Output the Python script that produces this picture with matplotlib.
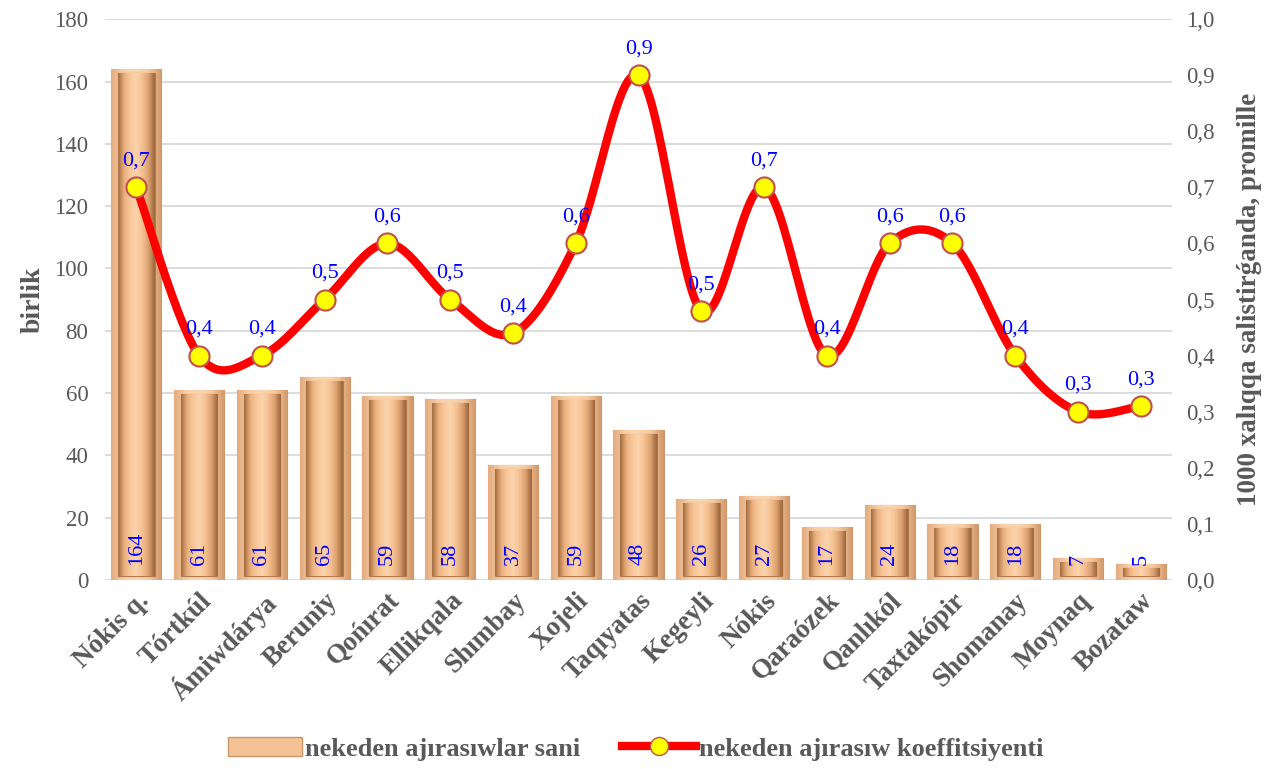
import numpy as np
import matplotlib
matplotlib.use("Agg")
import matplotlib.pyplot as plt
from matplotlib.lines import Line2D
from matplotlib.patches import Patch
from matplotlib.colors import LinearSegmentedColormap
import matplotlib.transforms as mtransforms

# data
regions = ["Nókis q.", "Tórtkúl", "Ámiwdárya", "Beruniy", "Qońırat", "Ellikqala",
           "Shımbay", "Xojeli", "Taqıyatas", "Kegeyli", "Nókis", "Qaraózek",
           "Qanlıkól", "Taxtakópir", "Shomanay", "Moynaq", "Bozataw"]
divorces = [164, 61, 61, 65, 59, 58, 37, 59, 48, 26, 27, 17, 24, 18, 18, 7, 5]
coef = [0.70, 0.40, 0.40, 0.50, 0.60, 0.50, 0.44, 0.60, 0.90, 0.48, 0.70, 0.40,
        0.60, 0.60, 0.40, 0.30, 0.31]
coef_labels = ["0,7", "0,4", "0,4", "0,5", "0,6", "0,5", "0,4", "0,6", "0,9", "0,5",
               "0,7", "0,4", "0,6", "0,6", "0,4", "0,3", "0,3"]

plt.rcParams['font.family'] = ['Liberation Serif', 'DejaVu Serif']
GRAY = '#595959'

fig = plt.figure(figsize=(12.72, 7.69), dpi=100)
ax = fig.add_axes([0.0825, 0.246, 0.839, 0.729])
ax2 = ax.twinx()

x = np.arange(len(regions))

outer_cm = LinearSegmentedColormap.from_list(
    'outer', ['#E4AC80', '#F8CEA7', '#FAD4AE', '#F6C89F', '#D29869'])
inner_cm = LinearSegmentedColormap.from_list(
    'inner', ['#A66E40', '#EBB07F', '#F8C89B', '#FBD3AB', '#F5C090', '#DBA171', '#9C653A'])
grad = np.linspace(0, 1, 64).reshape(1, -1)

def shade(bars, cmap):
    for p in bars:
        x0, y0, w, h = p.get_x(), p.get_y(), p.get_width(), p.get_height()
        im = ax.imshow(grad, cmap=cmap, extent=[x0, x0 + w, y0, y0 + h],
                       aspect='auto', zorder=p.get_zorder(), interpolation='bicubic')
        im.set_clip_path(p)

# bevelled bars: outer frame + inner panel, both with gradients
outer = ax.bar(x, divorces, width=0.8, color='none', edgecolor='#C9966C',
               linewidth=0.8, zorder=2)
shade(outer, outer_cm)
inner = ax.bar(x, np.array(divorces) - 2.6, bottom=1.3, width=0.58, color='none',
               edgecolor='#B07A4E', linewidth=0.8, zorder=3)
shade(inner, inner_cm)
for xi, v in zip(x, divorces):
    ax.text(xi, 4.8, str(v), rotation=90, ha='center', va='bottom', color='#0000FF',
            fontsize=16, zorder=4)

ax.set_ylim(0, 180)
ax.set_yticks(range(0, 181, 20))
ax.set_xlim(-0.5, len(regions) - 0.5)
ax.set_xticks(x)
ax.set_xticklabels(regions, rotation=45, ha='right', rotation_mode='anchor',
                   fontsize=19.5, fontweight='bold', color=GRAY)
shift = mtransforms.ScaledTranslation(-8 / 72, 0, fig.dpi_scale_trans)
for lab in ax.get_xticklabels():
    lab.set_transform(lab.get_transform() + shift)
ax.tick_params(axis='y', labelsize=16.5, labelcolor=GRAY, length=0, pad=12)
ax.tick_params(axis='x', length=0, pad=6)
ax.grid(axis='y', color='#D9D9D9', linewidth=1.3, zorder=0)
ax.set_axisbelow(True)
ax.set_ylabel('birlik', fontsize=20, fontweight='bold', color=GRAY, labelpad=6)
for s in ax.spines.values():
    s.set_visible(False)
for s in ax2.spines.values():
    s.set_visible(False)

# smoothed line (Catmull-Rom style Bezier between points)
def smooth(xs, ys, n=30):
    px = np.concatenate([[xs[0]], xs, [xs[-1]]])
    py = np.concatenate([[ys[0]], ys, [ys[-1]]])
    outx, outy = [], []
    t = np.linspace(0, 1, n)
    for i in range(1, len(px) - 2):
        p0 = np.array([px[i], py[i]])
        p3 = np.array([px[i + 1], py[i + 1]])
        c1 = p0 + (np.array([px[i + 1], py[i + 1]]) - np.array([px[i - 1], py[i - 1]])) / 6
        c2 = p3 - (np.array([px[i + 2], py[i + 2]]) - np.array([px[i], py[i]])) / 6
        b = ((1 - t) ** 3)[:, None] * p0 + (3 * (1 - t) ** 2 * t)[:, None] * c1 \
            + (3 * (1 - t) * t ** 2)[:, None] * c2 + (t ** 3)[:, None] * p3
        outx.extend(b[:, 0])
        outy.extend(b[:, 1])
    return outx, outy

sx, sy = smooth(x.astype(float), np.array(coef))
ax2.plot(sx, sy, color='#FF0000', linewidth=6, solid_capstyle='round', zorder=5)
ax2.plot(x, coef, linestyle='none', marker='o', markersize=14.5, markerfacecolor='#FFFF00',
         markeredgecolor='#C0504D', markeredgewidth=1.5, zorder=6)
for xi, v, lab in zip(x, coef, coef_labels):
    ax2.annotate(lab, (xi, v), xytext=(0, 12), textcoords='offset points', ha='center',
                 va='bottom', color='#0000FF', fontsize=16, zorder=7)

ax2.set_ylim(0, 1.0)
ax2.set_yticks(np.arange(0, 1.01, 0.1))
ax2.set_yticklabels([f"{v:.1f}".replace('.', ',') for v in np.arange(0, 1.01, 0.1)])
ax2.tick_params(axis='y', labelsize=16.5, labelcolor=GRAY, length=0, pad=10)
ax2.set_ylabel('1000 xalıqqa salistirǵanda, promille', fontsize=19.5, fontweight='bold',
               color=GRAY, labelpad=16)

handles = [Patch(facecolor='#F5C296', edgecolor='#C9966C', label='nekeden ajırasıwlar sani'),
           Line2D([0], [0], color='#FF0000', linewidth=6, marker='o', markersize=13,
                  markerfacecolor='#FFFF00', markeredgecolor='#C0504D',
                  label='nekeden ajırasıw koeffitsiyenti')]
fig.legend(handles=handles, loc='lower center', bbox_to_anchor=(0.5, -0.02), ncol=2,
           frameon=False, prop={'size': 19, 'weight': 'bold'}, labelcolor=GRAY,
           handlelength=2.8, handletextpad=0.1, columnspacing=1.6)

fig.savefig('out.png', dpi=100)
